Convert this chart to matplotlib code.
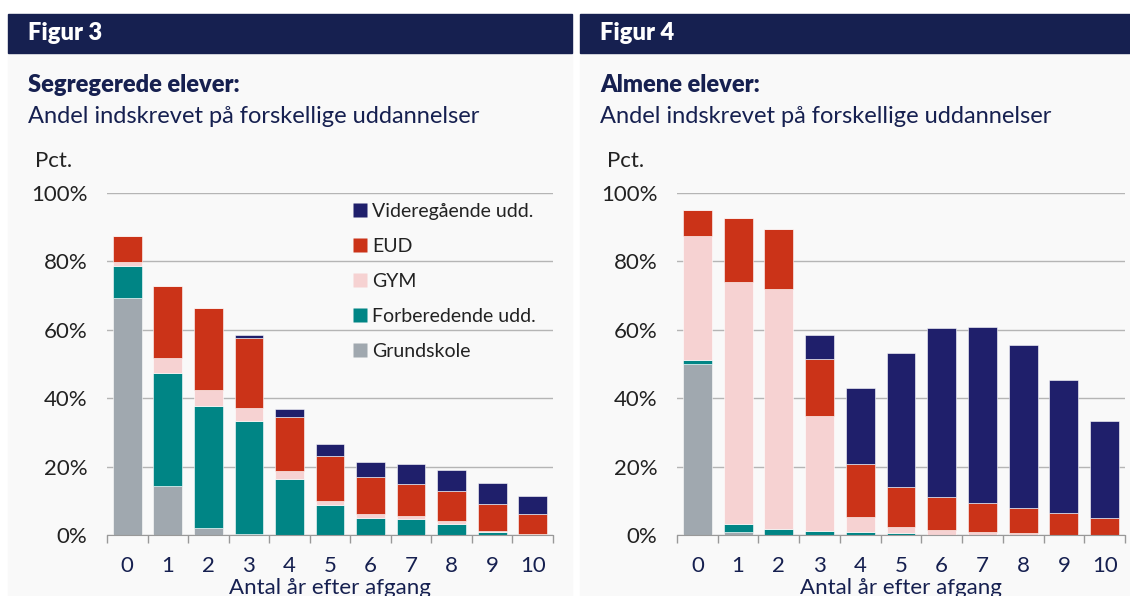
import numpy as np
import matplotlib.pyplot as plt
from matplotlib.patches import Rectangle
from matplotlib.lines import Line2D

plt.rcParams['font.family'] = ['Lato', 'DejaVu Sans']

years = [str(i) for i in range(11)]
series = ["Grundskole", "Forberedende udd.", "GYM", "EUD", "Videregående udd."]
colors = ["#a0a8af", "#008585", "#f6d2d2", "#cb3318", "#1f1f6b"]

# Figur 3: segregerede elever (pct.)
seg_grund = [69.4, 14.3, 2.1, 0.3, 0.0, 0.0, 0.0, 0.0, 0.0, 0.0, 0.0]
seg_forb = [9.3, 33.2, 35.6, 33.1, 16.5, 8.7, 5.1, 4.7, 3.3, 0.8, 0.0]
seg_gym = [1.1, 4.4, 4.8, 3.6, 2.3, 1.2, 1.1, 0.9, 0.8, 0.4, 0.2]
seg_eud = [7.6, 20.9, 24.0, 20.5, 15.8, 13.3, 10.8, 9.3, 8.9, 8.0, 5.8]
seg_vid = [0.0, 0.0, 0.0, 0.9, 2.3, 3.3, 4.3, 5.8, 6.1, 5.9, 5.5]

# Figur 4: almene elever (pct.)
alm_grund = [50.1, 1.0, 0.0, 0.0, 0.0, 0.0, 0.0, 0.0, 0.0, 0.0, 0.0]
alm_forb = [1.0, 2.3, 1.9, 1.3, 1.0, 0.7, 0.1, 0.0, 0.0, 0.0, 0.0]
alm_gym = [36.4, 70.7, 70.0, 33.5, 4.2, 1.7, 1.4, 0.8, 0.6, 0.1, 0.0]
alm_eud = [7.6, 18.6, 17.6, 16.6, 15.7, 11.7, 9.7, 8.5, 7.2, 6.4, 5.1]
alm_vid = [0.0, 0.0, 0.0, 7.0, 22.2, 39.0, 49.3, 51.5, 47.7, 38.7, 28.3]

W, H = 1130, 596
fig = plt.figure(figsize=(W / 100, H / 100), dpi=100)
fig.patch.set_facecolor("white")
navy = "#162050"


def px(x, y):
    return x / W, 1 - y / H


def panel(x0, x1, fig_no, title, ax_left, ax_right, data, legend):
    # background and header
    fig.patches.append(Rectangle(px(x0, H), (x1 - x0) / W, (H - 53) / H,
                                 transform=fig.transFigure, color="#f9f9f9", zorder=-10))
    fig.patches.append(Rectangle(px(x0, 53), (x1 - x0) / W, 39 / H,
                                 transform=fig.transFigure, color=navy, zorder=-10))
    fig.text(*px(x0 + 20, 33), "Figur " + fig_no, color="white", fontsize=17,
             fontweight="heavy", va="center")
    fig.text(*px(x0 + 20, 85), title, color=navy, fontsize=17, fontweight="heavy", va="center")
    fig.text(*px(x0 + 20, 116), "Andel indskrevet på forskellige uddannelser",
             color=navy, fontsize=17, va="center")
    fig.text(*px(x0 + 27, 161), "Pct.", color="#222222", fontsize=16, va="center")

    ax = fig.add_axes([ax_left / W, (H - 535) / H, (ax_right - ax_left) / W, 342 / H])
    ax.set_facecolor("none")
    x = np.arange(len(years))
    bottom = np.zeros(len(years))
    for vals, c, name in zip(data, colors, series):
        ax.bar(x, vals, width=0.71, bottom=bottom, color=c, edgecolor="white",
               linewidth=0.4, label=name, zorder=3)
        bottom += np.array(vals)
    ax.set_xlim(-0.5, 10.5)
    ax.set_ylim(0, 100)
    ax.set_yticks(range(0, 101, 20))
    ax.set_yticklabels([f"{v}%" for v in range(0, 101, 20)])
    ax.yaxis.grid(True, color="#b5b5b5", linewidth=1, zorder=0)
    ax.tick_params(axis="y", length=0, pad=14, labelsize=16, labelcolor="#222222")
    ax.set_xticks(x)
    ax.set_xticklabels(years)
    ax.tick_params(axis="x", length=0, pad=15, labelsize=16, labelcolor=navy)
    ax.set_xticks(np.arange(-0.5, 11, 1), minor=True)
    ax.tick_params(axis="x", which="minor", length=6, color="#999999", width=1)
    for s in ["top", "right", "left"]:
        ax.spines[s].set_visible(False)
    ax.spines["bottom"].set_color("#999999")
    ax.spines["bottom"].set_zorder(4)
    fig.text((ax_left + ax_right) / 2 / W, 1 - 588 / H, "Antal år efter afgang",
             color=navy, fontsize=16, ha="center", va="center")

    if legend:
        handles = [Line2D([], [], marker="s", linestyle="", markersize=10,
                          markerfacecolor=c, markeredgecolor="none") for c in colors]
        ax.legend(handles[::-1], series[::-1], loc="upper left",
                  bbox_to_anchor=(0.507, 1.022), frameon=False, fontsize=14,
                  labelspacing=0.92, handletextpad=0.1, handlelength=1.0,
                  labelcolor="#222222")
    return ax


seg = [seg_grund, seg_forb, seg_gym, seg_eud, seg_vid]
alm = [alm_grund, alm_forb, alm_gym, alm_eud, alm_vid]
panel(8, 572, "3", "Segregerede elever:", 107, 553, seg, True)
panel(580, 1130, "4", "Almene elever:", 677, 1125, alm, False)

fig.savefig("out.png", dpi=100)
